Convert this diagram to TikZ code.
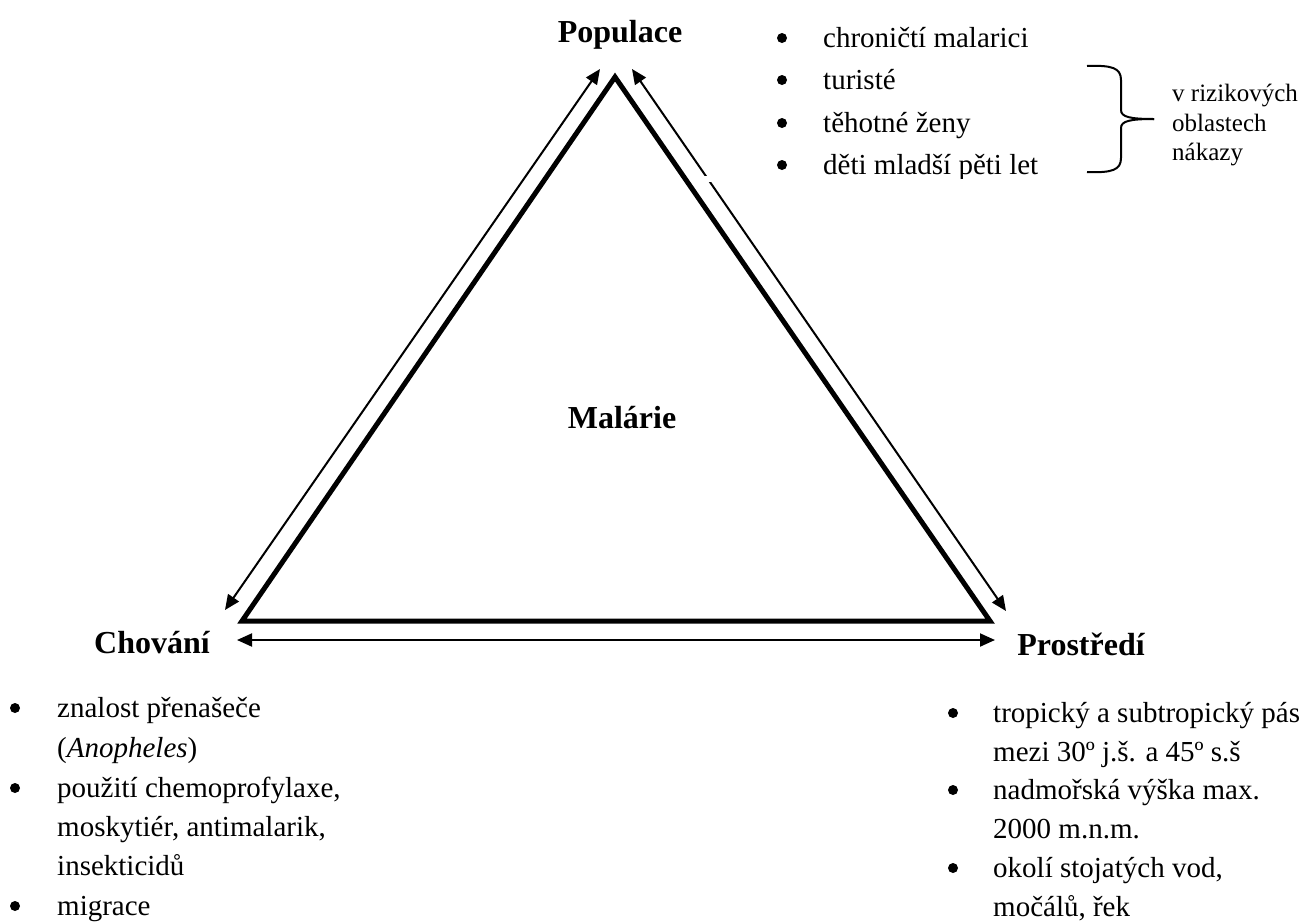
\documentclass[tikz,border=0pt]{standalone}
\usepackage{fontspec}
\setmainfont{Liberation Serif}
\usetikzlibrary{arrows.meta}
\begin{document}
\begin{tikzpicture}[x=1pt,y=-1pt,
  tri/.style={line width=5pt, line join=miter},
  dblarrow/.style={line width=2pt, {Triangle[length=15pt,width=13pt]}-{Triangle[length=15pt,width=13pt]}},
  lbl/.style={font=\fontsize{32}{40}\selectfont\bfseries, inner sep=0pt, anchor=base},
  itemtext/.style={font=\fontsize{29}{40}\selectfont, inner sep=0pt, anchor=base west},
  bul/.style={circle, fill=black, inner sep=0pt, minimum size=10pt},
  smalltext/.style={font=\fontsize{25}{30}\selectfont, inner sep=0pt, anchor=base west},
  brace/.style={line width=2pt}
]
\useasboundingbox (0,0) rectangle (1307,922);

% triangle corners
\coordinate (A) at (615,77);
\coordinate (B) at (242,621);
\coordinate (C) at (990,621);
\draw[tri] (A) -- (B) -- (C) -- cycle;

% arrow endpoints
\coordinate (la1) at (600,69);
\coordinate (la2) at (225,610);
\coordinate (ra1) at (632,69);
\coordinate (ra2) at (1006,611);
\coordinate (ba1) at (237,640);
\coordinate (ba2) at (995,640);
\draw[dblarrow] (la1) -- (la2);
\draw[dblarrow] (ra1) -- (ra2);
\draw[dblarrow] (ba1) -- (ba2);
% small gap in the right arrow
\fill[white] (702,176) rectangle (712,182);

% labels
\node[lbl] (pop) at (620,42) {Populace};
\node[lbl] (mal) at (622,428) {Malárie};
\node[lbl] (chov) at (152,653) {Chování};
\node[lbl] (pros) at (1081,655) {Prostředí};

% top right list (clipped at bottom)
\begin{scope}
\clip (700,0) rectangle (1050,178);
\node[bul] (tb1) at (782,38) {};
\node[itemtext] (tt1) at (823,47) {chroničtí malarici};
\node[bul] (tb2) at (782,80) {};
\node[itemtext] (tt2) at (823,89) {turisté};
\node[bul] (tb3) at (782,123) {};
\node[itemtext] (tt3) at (823,132) {těhotné ženy};
\node[bul] (tb4) at (782,165) {};
\node[itemtext] (tt4) at (823,174) {děti mladší pěti let};
\end{scope}

% brace
\coordinate (brt) at (1087,66);
\coordinate (brb) at (1087,172);
\coordinate (brtip) at (1154,119);
\draw[brace] (brt) .. controls (1112,65) and (1121,68) .. (1121,80)
  -- (1121,110) .. controls (1121,117) and (1130,119) .. (brtip);
\draw[brace] (brb) .. controls (1112,173) and (1121,170) .. (1121,158)
  -- (1121,128) .. controls (1121,121) and (1130,119) .. (brtip);
\node[smalltext] (r1) at (1172,101) {v rizikových};
\node[smalltext] (r2) at (1172,131) {oblastech};
\node[smalltext] (r3) at (1172,160) {nákazy};

% bottom left list
\node[bul] (lb1) at (15,708) {};
\node[itemtext] (lt1) at (57,717) {znalost přenašeče};
\node[itemtext] (lt2) at (57,757) {(\textit{Anopheles})};
\node[bul] (lb2) at (15,788) {};
\node[itemtext] (lt3) at (57,797) {použití chemoprofylaxe,};
\node[itemtext] (lt4) at (57,836) {moskytiér, antimalarik,};
\node[itemtext] (lt5) at (57,875) {insekticidů};
\node[bul] (lb3) at (15,906) {};
\node[itemtext] (lt6) at (57,915) {migrace};

% bottom right list
\node[bul] (rb1) at (953,713) {};
\node[itemtext] (rt1) at (993,722) {tropický a subtropický pás};
\node[itemtext] (rt2) at (993,761) {mezi 30º j.š. a 45º s.š};
\node[bul] (rb2) at (953,790) {};
\node[itemtext] (rt3) at (993,799) {nadmořská výška max.};
\node[itemtext] (rt4) at (993,838) {2000 m.n.m.};
\node[bul] (rb3) at (953,868) {};
\node[itemtext] (rt5) at (993,877) {okolí stojatých vod,};
\node[itemtext] (rt6) at (993,916) {močálů, řek};
\end{tikzpicture}
\end{document}
